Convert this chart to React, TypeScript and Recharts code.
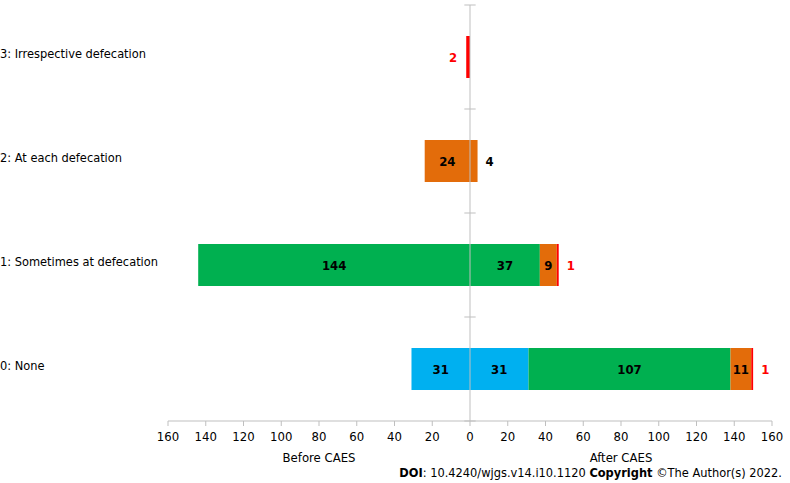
import React from "react"
import { BarChart, Bar, XAxis, YAxis, ReferenceLine, LabelList } from "recharts"

// categories top to bottom (vertical layout draws the first row at the top)
const categories = [
  "3: Irrespective defecation",
  "2: At each defecation",
  "1: Sometimes at defecation",
  "0: None",
]

// before CAES (drawn to the left)
const beforeBlue = [0, 0, 0, 31]
const beforeGreen = [0, 0, 144, 0]
const beforeOrange = [0, 24, 0, 0]
const beforeRed = [2, 0, 0, 0]

// after CAES (drawn to the right)
const afterBlue = [0, 0, 0, 31]
const afterGreen = [0, 0, 37, 107]
const afterOrange = [0, 4, 9, 11]
const afterRed = [0, 0, 1, 1]

const xTicks = [-160, -140, -120, -100, -80, -60, -40, -20, 0, 20, 40, 60, 80, 100, 120, 140, 160]

const BLUE = "#00B0F0"
const GREEN = "#00B050"
const ORANGE = "#E36C0A"
const RED = "#FF0000"
const AXIS = "#BFBFBF"
const FONT = "'DejaVu Sans Condensed', 'DejaVu Sans', sans-serif"

const data = categories.map((name, i) => ({
  name,
  bBlue: -beforeBlue[i],
  bGreen: -beforeGreen[i],
  bOrange: -beforeOrange[i],
  bRed: -beforeRed[i],
  aBlue: afterBlue[i],
  aGreen: afterGreen[i],
  aOrange: afterOrange[i],
  aRed: afterRed[i],
}))

// label inside the bar, or beside it when the bar is too thin
const makeLabel = (color: string) => (props: any) => {
  const { x, y, width, height, value } = props
  if (!value) return null
  const left = Math.min(x, x + width)
  const right = Math.max(x, x + width)
  const w = right - left
  const cy = y + height / 2
  let tx = left + w / 2
  let anchor: "middle" | "start" | "end" = "middle"
  if (w < 12) {
    if (value < 0) {
      tx = left - 9
      anchor = "end"
    } else {
      tx = right + 8
      anchor = "start"
    }
  }
  return (
    <text x={tx} y={cy} textAnchor={anchor} dominantBaseline="central" fill={color}
      fontFamily={FONT} fontSize={13} fontWeight="bold">
      {Math.abs(value)}
    </text>
  )
}

const CategoryTick = ({ y, payload }: any) => (
  <text x={0} y={y - 4} textAnchor="start" dominantBaseline="central" fill="#000"
    fontFamily={FONT} fontSize={12.7}>
    {payload.value}
  </text>
)

const SideLabels = ({ viewBox }: any) => {
  const { x, y, width } = viewBox
  return (
    <g fontFamily={FONT} fontSize={13} fill="#000">
      <text x={x + width / 4} y={y + 36} textAnchor="middle" dominantBaseline="central">Before CAES</text>
      <text x={x + (3 * width) / 4} y={y + 36} textAnchor="middle" dominantBaseline="central">After CAES</text>
    </g>
  )
}

const series = [
  { key: "bBlue", color: BLUE, label: "#000" },
  { key: "bGreen", color: GREEN, label: "#000" },
  { key: "bOrange", color: ORANGE, label: "#000" },
  { key: "bRed", color: RED, label: RED },
  { key: "aBlue", color: BLUE, label: "#000" },
  { key: "aGreen", color: GREEN, label: "#000" },
  { key: "aOrange", color: ORANGE, label: "#000" },
  { key: "aRed", color: RED, label: RED },
]

export default function App() {
  return (
    <div style={{ position: "absolute", left: 0, top: 0, width: 790, height: 483, background: "#fff" }}>
      <BarChart width={790} height={483} data={data} layout="vertical" stackOffset="sign"
        margin={{ top: 5, right: 18, bottom: 12, left: 0 }}>
        <XAxis type="number" domain={[-160, 160]} ticks={xTicks} interval={0} height={50}
          tickFormatter={(v) => String(Math.abs(v))}
          tick={{ fill: "#000", fontSize: 13, fontFamily: FONT }}
          stroke={AXIS} tickSize={5} tickMargin={6}
          label={<SideLabels />} />
        <YAxis type="category" dataKey="name" width={168} axisLine={false} tickLine={false}
          tick={<CategoryTick />} />
        <ReferenceLine x={0} stroke={AXIS} strokeWidth={1} />
        {/* category boundary marks on the zero axis */}
        {categories.map((c) => (
          <ReferenceLine key={c} stroke={AXIS} position="start" ifOverflow="visible"
            segment={[{ x: -3, y: c }, { x: 3, y: c }]} />
        ))}
        <ReferenceLine stroke={AXIS} position="end" ifOverflow="visible"
          segment={[{ x: -3, y: categories[categories.length - 1] }, { x: 3, y: categories[categories.length - 1] }]} />
        {series.map((s) => (
          <Bar key={s.key} dataKey={s.key} stackId="s" fill={s.color} barSize={42}
            isAnimationActive={false}>
            <LabelList dataKey={s.key} content={makeLabel(s.label)} />
          </Bar>
        ))}
      </BarChart>
      <div style={{ position: "absolute", right: 8, top: 465, fontFamily: FONT, fontSize: 12.7, color: "#000", whiteSpace: "nowrap" }}>
        <b>DOI</b>: 10.4240/wjgs.v14.i10.1120 <b>Copyright</b> ©The Author(s) 2022.
      </div>
    </div>
  )
}
